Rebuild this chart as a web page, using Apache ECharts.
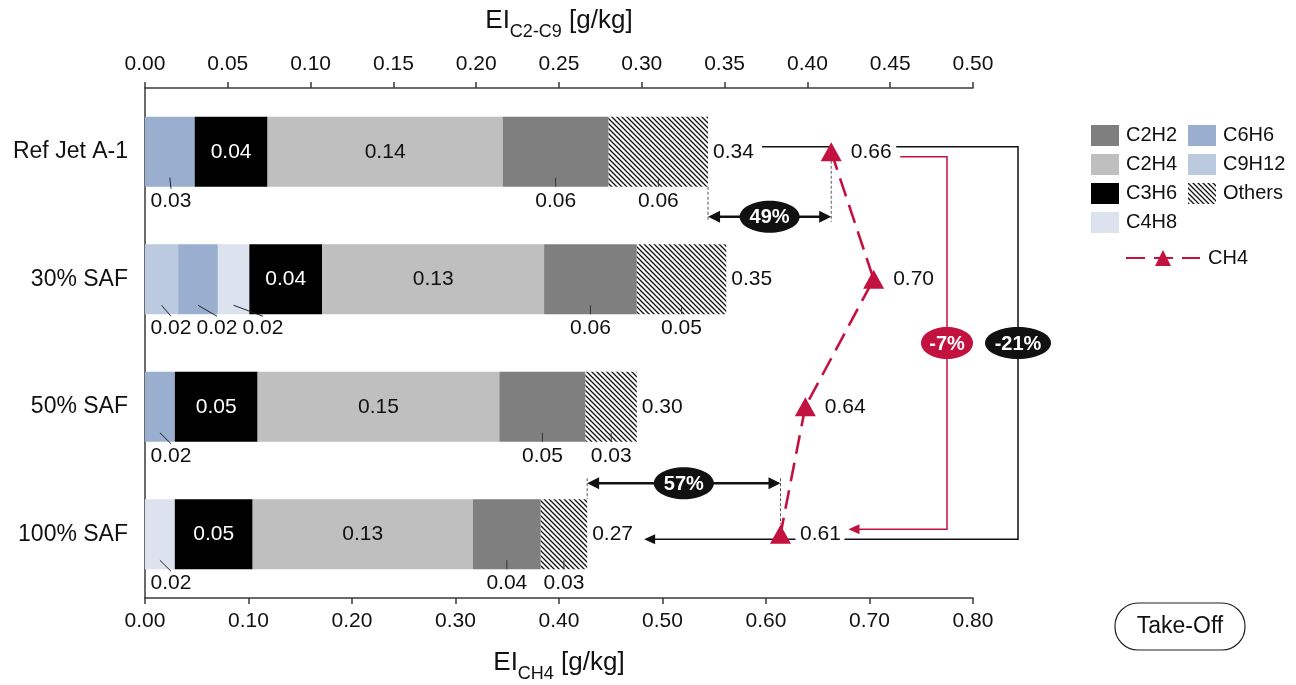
<!DOCTYPE html>
<html><head><meta charset="utf-8">
<script src="https://cdn.jsdelivr.net/npm/echarts@6/dist/echarts.min.js"></script>
<style>html,body{margin:0;padding:0;background:#fff}#c{width:1296px;height:685px}</style>
</head><body><div id="c"></div>
<script>
// ---------------- data ----------------
const categories = ['Ref Jet A-1', '30% SAF', '50% SAF', '100% SAF'];
const C9H12  = [0,     0.020, 0,     0];
const C6H6   = [0.030, 0.024, 0.018, 0];
const C4H8   = [0,     0.019, 0,     0.018];
const C3H6   = [0.044, 0.044, 0.050, 0.047];
const C2H4   = [0.142, 0.134, 0.146, 0.133];
const C2H2   = [0.064, 0.056, 0.052, 0.041];
const Others = [0.060, 0.054, 0.031, 0.028];
const CH4    = [0.663, 0.704, 0.638, 0.614];
const topAxis = {min: 0, max: 0.5, interval: 0.05};
const bottomAxis = {min: 0, max: 0.8, interval: 0.1};

// ---------------- styles ----------------
const FONT = "'Liberation Sans', Arial, Helvetica, sans-serif";
const RED = '#c3123f';
const VFS = 21;
function hatch() {
  const s = 5, c = document.createElement('canvas');
  c.width = s; c.height = s;
  const g = c.getContext('2d');
  g.fillStyle = '#fff'; g.fillRect(0, 0, s, s);
  g.strokeStyle = '#111'; g.lineWidth = 1.3;
  g.beginPath();
  g.moveTo(-1, -1); g.lineTo(s + 1, s + 1);
  g.moveTo(-1, s - 1); g.lineTo(1, s + 1);
  g.moveTo(s - 1, -1); g.lineTo(s + 1, 1);
  g.stroke();
  return c;
}
const hatchFill = {image: hatch(), repeat: 'repeat'};

const segNames  = ['C9H12', 'C6H6', 'C4H8', 'C3H6', 'C2H4', 'C2H2', 'Others'];
const segData   = [C9H12, C6H6, C4H8, C3H6, C2H4, C2H2, Others];
const segColors = ['#bccadf', '#9aafcf', '#dce3ee', '#000000', '#bfbfbf', '#7f7f7f', hatchFill];
const totals = categories.map((_, i) => segData.reduce((s, a) => s + a[i], 0));

const barSeries = segNames.map((name, s) => {
  const ser = {
    name, type: 'bar', stack: 'c', xAxisIndex: 0, yAxisIndex: 0,
    barWidth: 70, data: segData[s], itemStyle: {color: segColors[s]},
    emphasis: {disabled: true}, z: 2
  };
  if (name === 'C3H6' || name === 'C2H4') {
    ser.label = {show: true, position: 'inside', fontFamily: FONT, fontSize: VFS,
      color: name === 'C3H6' ? '#fff' : '#111', formatter: p => p.value.toFixed(2)};
  }
  if (name === 'Others') {
    ser.label = {show: true, position: 'right', distance: 5, fontFamily: FONT, fontSize: VFS,
      color: '#111', formatter: p => totals[p.dataIndex].toFixed(2)};
  }
  return ser;
});

const nameRich = {
  m: {fontFamily: FONT, fontSize: 26, color: '#111', lineHeight: 30, verticalAlign: 'top'},
  s: {fontFamily: FONT, fontSize: 18, color: '#111', lineHeight: 18, padding: [15, 0, 0, 0], verticalAlign: 'top'}
};
const axisCommon = {
  type: 'value', nameLocation: 'middle',
  axisLine: {show: true, lineStyle: {color: '#3a3a3a', width: 1.5}},
  axisTick: {show: true, length: 6, inside: false, lineStyle: {color: '#3a3a3a', width: 1.5}},
  axisLabel: {fontFamily: FONT, fontSize: VFS, color: '#111', margin: 13, formatter: v => v.toFixed(2)},
  splitLine: {show: false}
};

const option = {
  animation: false,
  backgroundColor: '#fff',
  grid: {left: 145, right: 323, top: 88, bottom: 87, containLabel: false, outerBoundsMode: 'none'},
  xAxis: [
    Object.assign({}, axisCommon, {position: 'top', min: topAxis.min, max: topAxis.max, interval: topAxis.interval,
      name: '{m|EI}{s|C2-C9}{m| [g/kg]}', nameGap: 50, nameTextStyle: {rich: nameRich}}),
    Object.assign({}, axisCommon, {position: 'bottom', min: bottomAxis.min, max: bottomAxis.max, interval: bottomAxis.interval,
      name: '{m|EI}{s|CH4}{m| [g/kg]}', nameGap: 52, nameTextStyle: {rich: nameRich}})
  ],
  yAxis: [{
    type: 'category', data: categories, inverse: true,
    axisLine: {show: true, lineStyle: {color: '#3a3a3a', width: 1.5}},
    axisTick: {show: false},
    axisLabel: {fontFamily: FONT, fontSize: 23, color: '#111', margin: 17},
    splitLine: {show: false}
  }],
  legend: [
    {data: ['C2H2', 'C2H4', 'C3H6', 'C4H8'], orient: 'vertical', left: 1091, top: 125, padding: 0,
      itemWidth: 28, itemHeight: 21, itemGap: 8, icon: 'rect', selectedMode: false,
      textStyle: {fontFamily: FONT, fontSize: 20, color: '#111', padding: [0, 0, 0, 2]}},
    {data: ['C6H6', 'C9H12', 'Others'], orient: 'vertical', left: 1188, top: 125, padding: 0,
      itemWidth: 28, itemHeight: 21, itemGap: 8, icon: 'rect', selectedMode: false,
      textStyle: {fontFamily: FONT, fontSize: 20, color: '#111', padding: [0, 0, 0, 2]}},
    {data: ['CH4'], orient: 'vertical', left: 1125, top: 248, padding: 0,
      itemWidth: 74, itemHeight: 20, selectedMode: false,
      textStyle: {fontFamily: FONT, fontSize: 20, color: '#111', padding: [0, 0, 0, 3]}}
  ],
  series: barSeries.concat([{
    name: 'CH4', type: 'line', xAxisIndex: 1, yAxisIndex: 0, data: CH4,
    symbol: 'triangle', symbolSize: [21, 19], z: 10,
    itemStyle: {color: RED},
    lineStyle: {color: RED, width: 2.6, type: [19, 9]},
    emphasis: {disabled: true},
    label: {show: true, position: 'right', distance: 9, fontFamily: FONT, fontSize: VFS, color: '#111',
      formatter: p => p.value.toFixed(2)}
  }])
};

const chart = echarts.init(document.getElementById('c'));
chart.setOption(option);

// ---------------- annotations positioned through the axes ----------------
const X0 = v => chart.convertToPixel({xAxisIndex: 0}, v);
const X1 = v => chart.convertToPixel({xAxisIndex: 1}, v);
const Y = i => chart.convertToPixel({yAxisIndex: 0}, i);
const HALF = 35;
const g = [];
const txt = (x, y, text, o) => g.push(Object.assign({type: 'text', x, y, z: 20,
  style: Object.assign({text, fill: '#111', font: VFS + 'px ' + FONT, align: 'center', verticalAlign: 'middle'}, (o || {}).style || {})}, o && o.el || {}));
const line = (pts, stroke, w, z, dash) => g.push({type: 'polyline', z: z || 1, silent: true,
  shape: {points: pts}, style: {stroke, lineWidth: w, fill: null, lineDash: dash || null}});
const head = (tx, ty, dir, color, len, half) => g.push({type: 'polygon', z: 3, silent: true,
  shape: {points: [[tx, ty], [tx - dir * len, ty - half], [tx - dir * len, ty + half]]}, style: {fill: color}});

// labels under bars with leader lines
categories.forEach((c, i) => {
  let acc = 0, k = 0;
  const yb = Y(i) + HALF;
  segData.forEach((arr, s) => {
    const v = arr[i];
    const x0 = X0(acc), x1 = X0(acc + v);
    acc += v;
    if (v <= 0) return;
    const cx = (x0 + x1) / 2;
    let lx;
    if (s <= 2) {
      lx = X0(0) + 26 + 46 * k; k++;
      line([[cx, yb - 9], [lx, yb + 2]], '#222', 1, 5);
    } else if (s >= 5) {
      lx = cx;
      line([[cx, yb - 9], [cx, yb]], '#333', 1, 5);
    } else return;
    txt(lx, yb + 14, v.toFixed(2));
  });
});

const xRight = X1(bottomAxis.max);
const xBlack = xRight + 45, xRed = xRight - 26;
const t0 = X1(CH4[0]), t3 = X1(CH4[3]);
const n = CH4.length - 1;

// black connector (-21 %)
const yT = Y(0) - 5, yB = Y(n) + 5;
line([[X0(totals[0]) + 54, yT], [t0, yT]], '#111', 1.5, 1);
line([[t0 + 65, yT], [xBlack, yT], [xBlack, yB], [t3 + 64, yB]], '#111', 1.5, 1);
line([[t3 + 15, yB], [X0(totals[n]) + 66, yB]], '#111', 1.5, 1);
head(X0(totals[n]) + 57, yB, -1, '#111', 11, 5);
// red connector (-7 %)
const yRT = Y(0) + 5, yRB = Y(n) - 5;
line([[t0 + 69, yRT], [xRed, yRT], [xRed, yRB], [t3 + 78, yRB]], RED, 1.5, 1);
head(t3 + 68, yRB, -1, RED, 11, 5);

const ell = (cx, cy, rx, text, color) => {
  g.push({type: 'ellipse', z: 15, silent: true, shape: {cx, cy, rx, ry: 16}, style: {fill: color}});
  txt(cx, cy + 1, text, {style: {fill: '#fff', font: 'bold 20px ' + FONT}});
};
const pct = (a, b) => Math.round((a - b) / b * 100);
ell(xRed, (yRT + yRB) / 2, 26, pct(CH4[n], CH4[0]) + '%', RED);
ell(xBlack, (yT + yB) / 2, 33, pct(totals[n], totals[0]) + '%', '#111');

// double arrows between C2-C9 totals and CH4
function dbl(row, yA, topSide) {
  const xa = X0(totals[row]), xb = X1(CH4[row]);
  const yc = Y(row);
  line([[xa + 10, yA], [xb - 10, yA]], '#111', 2.6, 3);
  head(xa, yA, -1, '#111', 12, 6);
  head(xb, yA, 1, '#111', 12, 6);
  if (topSide) {
    line([[xa, yc + HALF], [xa, yA + 5]], '#555', 1, 2, [3, 2]);
    line([[xb, yc + 9], [xb, yA + 5]], '#555', 1, 2, [3, 2]);
  } else {
    line([[xa, yA - 5], [xa, yc - HALF]], '#555', 1, 2, [3, 2]);
    line([[xb, yA - 5], [xb, yc - 10]], '#555', 1, 2, [3, 2]);
  }
  ell((xa + xb) / 2, yA, 30, Math.round((CH4[row] - totals[row]) / CH4[row] * 100) + '%', '#111');
}
dbl(0, Y(0) + 65, true);
dbl(n, Y(n) - 51, false);

// Take-Off box
g.push({type: 'rect', z: 5, shape: {x: 1115, y: 603, width: 130, height: 47, r: 23},
  style: {fill: '#fff', stroke: '#222', lineWidth: 1.2}});
txt(1180, 627, 'Take-Off', {style: {font: '23px ' + FONT}});

chart.setOption({graphic: {elements: g}});
</script>
</body></html>
